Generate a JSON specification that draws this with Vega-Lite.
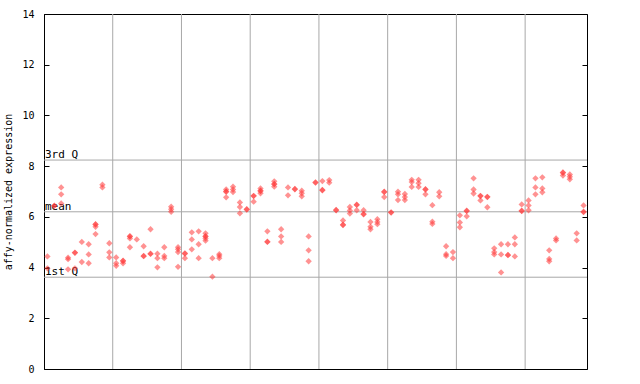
{
  "$schema": "https://vega.github.io/schema/vega-lite/v6.json",
  "autosize": "none",
  "width": 543,
  "height": 355,
  "padding": {"left": 44, "top": 14, "right": 53, "bottom": 15},
  "background": "white",
  "config": {
    "view": {"stroke": "black", "strokeWidth": 1},
    "font": "DejaVu Sans Mono"
  },
  "datasets": {
    "bounds": [{"b": 9.5}, {"b": 19.5}, {"b": 29.5}, {"b": 39.5}, {"b": 49.5}, {"b": 59.5}, {"b": 69.5}],
    "stats": [{"label": "3rd Q", "v": 8.24}, {"label": "mean", "v": 6.2}, {"label": "1st Q", "v": 3.62}],
    "points": [
      {"s":0,"v":4.44},{"s":0,"v":3.97},
      {"s":1,"v":6.44},{"s":1,"v":6.43},
      {"s":2,"v":7.16},{"s":2,"v":6.89},{"s":2,"v":6.53},
      {"s":3,"v":4.39},{"s":3,"v":4.33},{"s":3,"v":3.93},
      {"s":4,"v":4.59},{"s":4,"v":4.58},{"s":4,"v":3.97},
      {"s":5,"v":5.01},{"s":5,"v":4.22},
      {"s":6,"v":4.92},{"s":6,"v":4.52},{"s":6,"v":4.17},
      {"s":7,"v":5.71},{"s":7,"v":5.7},{"s":7,"v":5.61},{"s":7,"v":5.32},
      {"s":8,"v":7.27},{"s":8,"v":7.16},
      {"s":9,"v":4.96},{"s":9,"v":4.6},{"s":9,"v":4.4},
      {"s":10,"v":4.4},{"s":10,"v":4.17},{"s":10,"v":4.07},
      {"s":11,"v":4.27},{"s":11,"v":4.26},{"s":11,"v":4.17},
      {"s":12,"v":5.24},{"s":12,"v":5.23},{"s":12,"v":5.15},{"s":12,"v":4.8},
      {"s":13,"v":5.11},
      {"s":14,"v":4.84},{"s":14,"v":4.46},{"s":14,"v":4.45},
      {"s":15,"v":5.51},{"s":15,"v":4.55},{"s":15,"v":4.54},
      {"s":16,"v":4.55},{"s":16,"v":4.37},{"s":16,"v":4.01},
      {"s":17,"v":4.8},{"s":17,"v":4.46},{"s":17,"v":4.37},
      {"s":18,"v":6.4},{"s":18,"v":6.3},{"s":18,"v":6.2},
      {"s":19,"v":4.8},{"s":19,"v":4.72},{"s":19,"v":4.61},{"s":19,"v":4.03},
      {"s":20,"v":4.56},{"s":20,"v":4.55},{"s":20,"v":4.37},
      {"s":21,"v":5.39},{"s":21,"v":5.11},{"s":21,"v":4.72},
      {"s":22,"v":5.43},{"s":22,"v":4.92},{"s":22,"v":4.37},
      {"s":23,"v":5.35},{"s":23,"v":5.24},{"s":23,"v":5.23},{"s":23,"v":5.15},{"s":23,"v":5.06},
      {"s":24,"v":4.37},{"s":24,"v":3.64},
      {"s":25,"v":4.53},{"s":25,"v":4.46},{"s":25,"v":4.37},
      {"s":26,"v":7.08},{"s":26,"v":7.0},{"s":26,"v":6.99},{"s":26,"v":6.77},
      {"s":27,"v":7.19},{"s":27,"v":7.08},{"s":27,"v":6.98},
      {"s":28,"v":6.57},{"s":28,"v":6.39},{"s":28,"v":6.14},
      {"s":29,"v":6.3},{"s":29,"v":6.29},
      {"s":30,"v":6.83},{"s":30,"v":6.82},{"s":30,"v":6.6},
      {"s":31,"v":7.12},{"s":31,"v":7.03},{"s":31,"v":7.02},{"s":31,"v":6.93},
      {"s":32,"v":5.43},{"s":32,"v":5.02},{"s":32,"v":5.01},
      {"s":33,"v":7.4},{"s":33,"v":7.3},{"s":33,"v":7.29},{"s":33,"v":7.19},
      {"s":34,"v":5.51},{"s":34,"v":5.23},{"s":34,"v":5.01},
      {"s":35,"v":7.16},{"s":35,"v":6.85},
      {"s":36,"v":7.1},{"s":36,"v":7.09},
      {"s":37,"v":7.03},{"s":37,"v":6.93},{"s":37,"v":6.81},
      {"s":38,"v":5.23},{"s":38,"v":4.68},{"s":38,"v":4.25},
      {"s":39,"v":7.36},{"s":39,"v":7.35},
      {"s":40,"v":7.41},{"s":40,"v":7.06},{"s":40,"v":7.05},
      {"s":41,"v":7.45},{"s":41,"v":7.35},
      {"s":42,"v":6.27},{"s":42,"v":6.26},
      {"s":43,"v":5.86},{"s":43,"v":5.69},{"s":43,"v":5.68},
      {"s":44,"v":6.39},{"s":44,"v":6.25},{"s":44,"v":6.13},
      {"s":45,"v":6.48},{"s":45,"v":6.47},{"s":45,"v":6.26},
      {"s":46,"v":6.26},{"s":46,"v":6.11},{"s":46,"v":6.1},
      {"s":47,"v":5.8},{"s":47,"v":5.61},{"s":47,"v":5.51},
      {"s":48,"v":5.91},{"s":48,"v":5.8},{"s":48,"v":5.71},
      {"s":49,"v":6.99},{"s":49,"v":6.98},{"s":49,"v":6.78},
      {"s":50,"v":6.18},{"s":50,"v":6.17},
      {"s":51,"v":6.99},{"s":51,"v":6.89},{"s":51,"v":6.66},
      {"s":52,"v":6.9},{"s":52,"v":6.78},{"s":52,"v":6.66},
      {"s":53,"v":7.46},{"s":53,"v":7.37},{"s":53,"v":7.18},
      {"s":54,"v":7.46},{"s":54,"v":7.33},{"s":54,"v":7.18},
      {"s":55,"v":7.09},{"s":55,"v":7.08},{"s":55,"v":6.89},
      {"s":56,"v":6.46},{"s":56,"v":5.81},{"s":56,"v":5.72},
      {"s":57,"v":6.97},{"s":57,"v":6.81},
      {"s":58,"v":4.84},{"s":58,"v":4.53},{"s":58,"v":4.46},
      {"s":59,"v":4.61},{"s":59,"v":4.37},
      {"s":60,"v":6.06},{"s":60,"v":5.78},{"s":60,"v":5.59},
      {"s":61,"v":6.24},{"s":61,"v":6.23},{"s":61,"v":6.02},
      {"s":62,"v":7.52},{"s":62,"v":7.08},{"s":62,"v":6.92},
      {"s":63,"v":6.83},{"s":63,"v":6.82},{"s":63,"v":6.65},
      {"s":64,"v":6.79},{"s":64,"v":6.78},{"s":64,"v":6.38},
      {"s":65,"v":4.76},{"s":65,"v":4.61},{"s":65,"v":4.52},
      {"s":66,"v":4.92},{"s":66,"v":4.52},{"s":66,"v":3.81},
      {"s":67,"v":4.92},{"s":67,"v":4.5},{"s":67,"v":4.49},
      {"s":68,"v":5.19},{"s":68,"v":4.92},{"s":68,"v":4.44},
      {"s":69,"v":6.49},{"s":69,"v":6.24},{"s":69,"v":6.23},
      {"s":70,"v":6.65},{"s":70,"v":6.45},{"s":70,"v":6.26},
      {"s":71,"v":7.52},{"s":71,"v":7.16},{"s":71,"v":6.89},
      {"s":72,"v":7.56},{"s":72,"v":7.12},{"s":72,"v":6.97},
      {"s":73,"v":4.68},{"s":73,"v":4.34},{"s":73,"v":4.25},
      {"s":74,"v":5.15},{"s":74,"v":5.07},
      {"s":75,"v":7.75},{"s":75,"v":7.74},{"s":75,"v":7.63},
      {"s":76,"v":7.67},{"s":76,"v":7.58},{"s":76,"v":7.48},
      {"s":77,"v":5.35},{"s":77,"v":5.07},
      {"s":78,"v":6.45},{"s":78,"v":6.2},{"s":78,"v":6.19}
    ]
  },
  "resolve": {"axis": {"y": "independent"}},
  "layer": [
    {
      "data": {"name": "bounds"},
      "mark": {"type": "rule", "color": "#a8a8a8", "strokeWidth": 1},
      "encoding": {
        "x": {"field": "b", "type": "quantitative", "scale": {"domain": [-0.5, 78.5], "nice": false, "zero": false}, "axis": null}
      }
    },
    {
      "data": {"name": "stats"},
      "mark": {"type": "rule", "color": "#a8a8a8", "strokeWidth": 1},
      "encoding": {
        "y": {"field": "v", "type": "quantitative", "scale": {"domain": [0, 14], "nice": false, "zero": true},
          "axis": {"orient": "right", "title": null, "labels": false, "domain": false, "grid": false,
            "values": [0, 2, 4, 6, 8, 10, 12, 14], "tickSize": -5, "tickColor": "black", "tickWidth": 1}}
      }
    },
    {
      "data": {"name": "stats"},
      "mark": {"type": "text", "align": "left", "baseline": "bottom", "dx": 1, "dy": 0, "font": "DejaVu Sans Mono", "fontSize": 11, "color": "black"},
      "encoding": {
        "x": {"datum": -0.5, "type": "quantitative"},
        "y": {"field": "v", "type": "quantitative", "axis": null},
        "text": {"field": "label"}
      }
    },
    {
      "data": {"name": "points"},
      "mark": {"type": "point", "shape": "diamond", "filled": true, "size": 40, "color": "#ff3838", "opacity": 0.55},
      "encoding": {
        "x": {"field": "s", "type": "quantitative"},
        "y": {"field": "v", "type": "quantitative",
          "axis": {"orient": "left", "title": "affy-normalized expression", "values": [0, 2, 4, 6, 8, 10, 12, 14],
            "grid": false, "domainColor": "black", "tickColor": "black", "tickSize": -5, "labelPadding": 15,
            "labelFont": "DejaVu Sans Mono", "labelFontSize": 10, "labelColor": "black",
            "titleFont": "DejaVu Sans Mono", "titleFontSize": 10, "titleFontWeight": "normal", "titleColor": "black", "titlePadding": 8}}
      }
    }
  ]
}
